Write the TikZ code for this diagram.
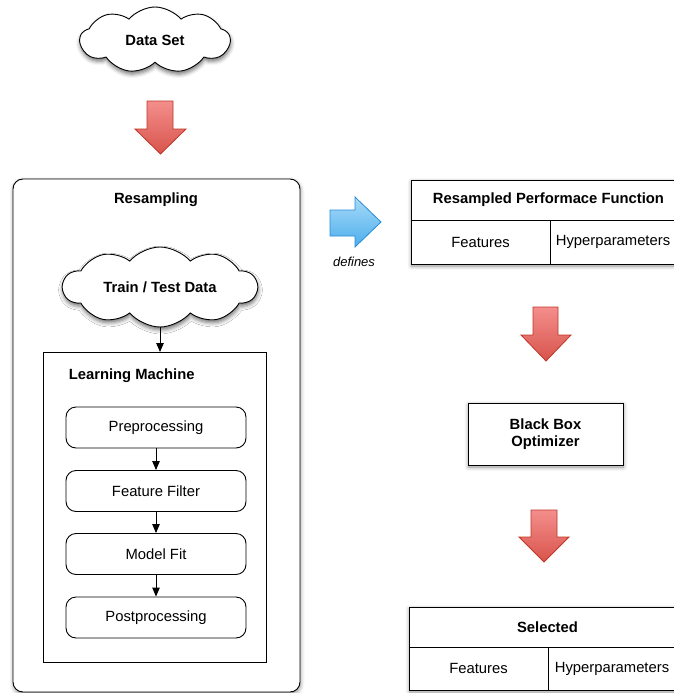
\documentclass[tikz,border=0pt]{standalone}
\usepackage{fontspec}
\setmainfont{Liberation Sans}
\usetikzlibrary{shapes.symbols,shadows.blur,arrows.meta}

\definecolor{arrowredtop}{HTML}{F48E8C}
\definecolor{arrowredbot}{HTML}{D8544C}
\definecolor{arrowredline}{HTML}{BF3526}
\definecolor{arrowbluetop}{HTML}{A8DAF9}
\definecolor{arrowbluebot}{HTML}{4BAEEC}
\definecolor{arrowblueline}{HTML}{2A8AD2}

\begin{document}
\begin{tikzpicture}[x=1pt,y=-1pt,
  font=\fontsize{14.8}{17}\selectfont,
  line width=0.9pt,
  softshadow/.style={blur shadow={shadow xshift=0.5pt,shadow yshift=-2pt,
      shadow blur radius=4pt,shadow opacity=45}},
  cloudnode/.style={cloud,cloud puffs=9,cloud puff arc=100,cloud ignores aspect,
      draw,fill=white,inner sep=0pt,
      blur shadow={shadow xshift=0.5pt,shadow yshift=-3pt,shadow blur radius=4pt,shadow opacity=55},
      font=\fontsize{14.8}{17}\selectfont\bfseries},
  boxnode/.style={draw,fill=white,inner sep=0pt,outer sep=0pt,anchor=north west},
  stepbox/.style={draw,fill=white,rounded corners=10pt,inner sep=0pt,
      minimum width=180pt,minimum height=41pt},
  flow/.style={-{Triangle[length=9pt,width=7.5pt]}},
  redblock/.style={draw=arrowredline,line width=0.8pt,top color=arrowredtop,
      bottom color=arrowredbot,line join=miter},
  blueblock/.style={draw=arrowblueline,line width=0.8pt,top color=arrowbluetop,
      bottom color=arrowbluebot,line join=miter},
  title/.style={font=\fontsize{14.8}{17}\selectfont\bfseries}]

\useasboundingbox (0,0) rectangle (674,693);

% input data
\node[cloudnode,minimum width=150pt,minimum height=66pt] (data) at (155,40) {Data Set};

% block arrow: data into resampling
\path[redblock] (147,101) -- (173,101) -- (173,129) -- (186,129) -- (160.5,154)
  -- (135,129) -- (147,129) -- cycle;

% resampling frame
\node[boxnode,rounded corners=10pt,softshadow,minimum width=287pt,minimum height=513pt]
  (resampling) at (13,179) {};
\node[title] (restitle) at (156,200) {Resampling};

\node[cloudnode,cloud puffs=10,minimum width=194pt,minimum height=80pt] (split) at (160,287)
  {Train / Test Data};

% learning machine
\node[boxnode,minimum width=223pt,minimum height=310pt] (lm) at (43,352) {};
\node[title,anchor=west] (lmtitle) at (65,376) {Learning Machine};

\node[stepbox] (pre)  at (156,427.5) {Preprocessing};
\node[stepbox] (filt) at (156,491)   {Feature Filter};
\node[stepbox] (fit)  at (156,554)   {Model Fit};
\node[stepbox] (post) at (156,617.5) {Postprocessing};

\draw[flow] (split.south -| 160,0) -- (lm.north -| 160,0);
\draw[flow] (pre.south)  -- (filt.north);
\draw[flow] (filt.south) -- (fit.north);
\draw[flow] (fit.south)  -- (post.north);

% "defines" arrow
\path[blueblock] (330,210) -- (355,210) -- (355,197) -- (381,222) -- (355,247)
  -- (355,236) -- (330,236) -- cycle;
\node[font=\fontsize{13}{15}\selectfont\itshape] (defines) at (354,262) {defines};

% resampled performance function
\node[boxnode,softshadow,minimum width=275pt,minimum height=84pt] (perf) at (411,180) {};
\node[boxnode,minimum width=275pt,minimum height=40pt,title] (perftitle) at (411,180)
  {Resampled Performace Function};
\node[boxnode,minimum width=139pt,minimum height=44pt] (perffeat) at (411,220) {Features};
\node[boxnode,minimum width=126pt,minimum height=44pt] (perfhyper) at (550,220)
  {Hyperparameters};

\path[redblock] (533,307) -- (558,307) -- (558,335) -- (571,335) -- (546,361)
  -- (521,335) -- (533,335) -- cycle;

% optimizer
\node[boxnode,softshadow,minimum width=155pt,minimum height=62pt,align=center,
  title,font=\fontsize{14.8}{17}\selectfont\bfseries] (opt) at (468,403)
  {Black Box\\Optimizer};

\path[redblock] (531,510) -- (557,510) -- (557,537) -- (569,537) -- (544,562)
  -- (519,537) -- (531,537) -- cycle;

% selected result
\node[boxnode,softshadow,minimum width=277pt,minimum height=83pt] (sel) at (409,607) {};
\node[boxnode,minimum width=277pt,minimum height=40pt,title] (seltitle) at (409,607)
  {Selected};
\node[boxnode,minimum width=139pt,minimum height=43pt] (selfeat) at (409,647) {Features};
\node[boxnode,minimum width=128pt,minimum height=43pt] (selhyper) at (548,647)
  {Hyperparameters};

\end{tikzpicture}
\end{document}
